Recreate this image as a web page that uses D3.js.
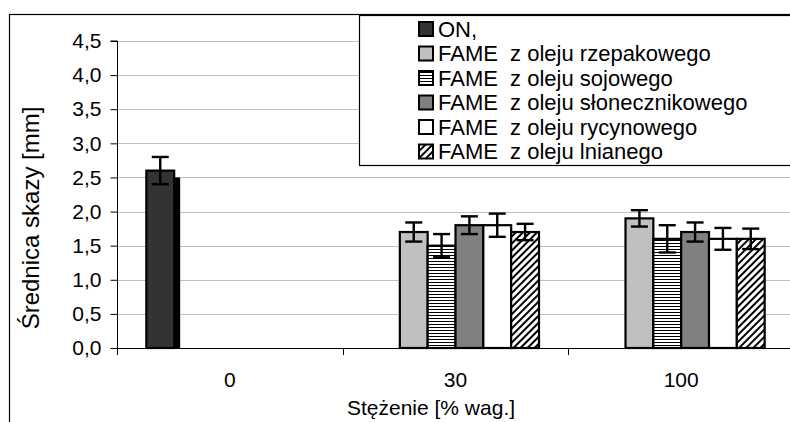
<!DOCTYPE html>
<html>
<head>
<meta charset="utf-8">
<script src="https://cdn.jsdelivr.net/npm/d3@7"></script>
<style>
  html, body { margin: 0; padding: 0; background: #fff; }
  svg { display: block; font-family: "Liberation Sans", Arial, sans-serif; }
  text { white-space: pre; }
</style>
</head>
<body>
<svg id="chart" width="790" height="422"></svg>
<script>
// Concentration groups on the x axis
const categories = ["0", "30", "100"];

// Series names (legend order)
const seriesNames = [
  "ON,",
  "FAME  z oleju rzepakowego",
  "FAME  z oleju sojowego",
  "FAME  z oleju słonecznikowego",
  "FAME  z oleju rycynowego",
  "FAME  z oleju lnianego"
];

// Mean scar diameter [mm] for each series at each concentration
const onValues        = [2.6, null, null];
const rzepakowyValues = [null, 1.7, 1.9];
const sojowyValues    = [null, 1.5, 1.6];
const slonecznValues  = [null, 1.8, 1.7];
const rycynowyValues  = [null, 1.8, 1.6];
const lnianyValues    = [null, 1.7, 1.6];

// Error bar half-widths [mm]
const onErrors        = [0.2, null, null];
const rzepakowyErrors = [null, 0.14, 0.12];
const sojowyErrors    = [null, 0.17, 0.2];
const slonecznErrors  = [null, 0.13, 0.14];
const rycynowyErrors  = [null, 0.17, 0.16];
const lnianyErrors    = [null, 0.12, 0.15];

// Dark side edge drawn next to the ON bar
const onEdgeValues = [2.5, null, null];

// Y axis ticks
const yTicks = [0, 0.5, 1.0, 1.5, 2.0, 2.5, 3.0, 3.5, 4.0, 4.5];

const seriesValues = [onValues, rzepakowyValues, sojowyValues, slonecznValues, rycynowyValues, lnianyValues];
const seriesErrors = [onErrors, rzepakowyErrors, sojowyErrors, slonecznErrors, rycynowyErrors, lnianyErrors];
const seriesFills = ["#333333", "#c0c0c0", "url(#hstripes)", "#808080", "#ffffff", "url(#diag)"];

const svg = d3.select("#chart");

// Hatch patterns
const defs = svg.append("defs");
const hp = defs.append("pattern").attr("id", "hstripes")
  .attr("patternUnits", "userSpaceOnUse").attr("width", 6).attr("height", 3);
hp.append("rect").attr("width", 6).attr("height", 3).attr("fill", "#fff");
hp.append("rect").attr("y", 0).attr("width", 6).attr("height", 1).attr("fill", "#000");

const dp = defs.append("pattern").attr("id", "diag")
  .attr("patternUnits", "userSpaceOnUse").attr("width", 5).attr("height", 5)
  .attr("patternTransform", "rotate(45)");
dp.append("rect").attr("width", 5).attr("height", 5).attr("fill", "#fff");
dp.append("rect").attr("x", 0).attr("width", 2).attr("height", 5).attr("fill", "#000");

// Outer frame (left and top edges visible)
svg.append("rect").attr("x", 9.5).attr("y", 14.5).attr("width", 800).attr("height", 420)
  .attr("fill", "none").attr("stroke", "#000").attr("stroke-width", 1.2);

const plot = { left: 117, right: 794, top: 41, bottom: 348 };

const y = d3.scaleLinear().domain([0, 4.5]).range([plot.bottom, plot.top]);
const x0 = d3.scaleBand().domain(categories).range([plot.left, plot.right])
  .paddingInner(0.26).paddingOuter(0.13);
const x1 = d3.scaleBand().domain(d3.range(seriesNames.length)).range([0, x0.bandwidth()]).padding(0);

// Gridlines
svg.append("g").selectAll("line").data(yTicks.filter(d => d > 0)).join("line")
  .attr("x1", plot.left).attr("x2", plot.right)
  .attr("y1", d => Math.round(y(d)) + 0.5).attr("y2", d => Math.round(y(d)) + 0.5)
  .attr("stroke", "#c0c0c0").attr("stroke-width", 1);

// Y axis
const yAxis = d3.axisLeft(y).tickValues(yTicks).tickSize(7).tickPadding(9)
  .tickFormat(d => d3.format(".1f")(d).replace(".", ","));
const gy = svg.append("g").attr("transform", `translate(${plot.left + 0.5},0)`).call(yAxis)
  .attr("font-size", 21).attr("font-family", "Liberation Sans, Arial, sans-serif");
gy.select(".domain").attr("d", `M-7,${y(4.5)}H0V${y(0)}`).attr("stroke", "#000");
gy.selectAll(".tick line").attr("stroke", "#000");
gy.selectAll(".tick text").attr("fill", "#000");

// Bars
const groups = svg.append("g").selectAll("g").data(categories).join("g")
  .attr("transform", d => `translate(${x0(d)},0)`);

groups.each(function(cat, ci) {
  const g = d3.select(this);
  // side edge next to the ON bar
  if (onEdgeValues[ci] != null) {
    g.append("rect")
      .attr("x", x1(1)).attr("y", y(onEdgeValues[ci]))
      .attr("width", 6).attr("height", y(0) - y(onEdgeValues[ci]))
      .attr("fill", "#000");
  }
  seriesValues.forEach((vals, si) => {
    const v = vals[ci];
    if (v == null) return;
    g.append("rect")
      .attr("x", x1(si)).attr("y", y(v))
      .attr("width", x1.bandwidth()).attr("height", y(0) - y(v))
      .attr("fill", seriesFills[si]).attr("stroke", "#000").attr("stroke-width", 2.2);
  });
  // error bars on top
  seriesValues.forEach((vals, si) => {
    const v = vals[ci], e = seriesErrors[si][ci];
    if (v == null || e == null) return;
    const cx = x1(si) + x1.bandwidth() / 2;
    const eg = g.append("g").attr("stroke", "#000").attr("stroke-width", 2.4);
    eg.append("line").attr("x1", cx).attr("x2", cx).attr("y1", y(v + e)).attr("y2", y(v - e));
    eg.append("line").attr("x1", cx - 8.5).attr("x2", cx + 8.5).attr("y1", y(v + e)).attr("y2", y(v + e));
    eg.append("line").attr("x1", cx - 8.5).attr("x2", cx + 8.5).attr("y1", y(v - e)).attr("y2", y(v - e));
  });
});

// X axis
const xAxisLine = svg.append("g");
xAxisLine.append("line").attr("x1", plot.left).attr("x2", plot.right)
  .attr("y1", plot.bottom + 0.5).attr("y2", plot.bottom + 0.5).attr("stroke", "#000");
const boundaries = categories.map(c => x0(c) - x0.step() * x0.paddingInner() / 2).concat([plot.right]);
xAxisLine.selectAll("line.tk").data(boundaries).join("line").attr("class", "tk")
  .attr("x1", d => Math.round(d) + 0.5).attr("x2", d => Math.round(d) + 0.5)
  .attr("y1", plot.bottom).attr("y2", plot.bottom + 7).attr("stroke", "#000");
svg.append("g").selectAll("text").data(categories).join("text")
  .attr("x", d => x0(d) + x0.bandwidth() / 2).attr("y", 387)
  .attr("text-anchor", "middle").attr("font-size", 21).text(d => d);

// Axis titles
svg.append("text").attr("x", 431).attr("y", 415).attr("text-anchor", "middle")
  .attr("font-size", 21).text("Stężenie [% wag.]");
svg.append("text").attr("transform", "translate(39,218) rotate(-90)")
  .attr("text-anchor", "middle").attr("font-size", 24).text("Średnica skazy [mm]");

// Legend
const legend = svg.append("g");
legend.append("rect").attr("x", 359.5).attr("y", 15.5).attr("width", 440).attr("height", 150)
  .attr("fill", "#fff").attr("stroke", "#000").attr("stroke-width", 1.2);
const rows = legend.selectAll("g.row").data(seriesNames).join("g").attr("class", "row")
  .attr("transform", (d, i) => `translate(0,${29 + i * 24.5})`);
rows.append("rect").attr("x", 419).attr("y", -7).attr("width", 14).attr("height", 14)
  .attr("fill", (d, i) => seriesFills[i]).attr("stroke", "#000").attr("stroke-width", 2);
rows.append("text").attr("x", 438).attr("y", 7.5).attr("font-size", 22).text(d => d);
</script>
</body>
</html>
